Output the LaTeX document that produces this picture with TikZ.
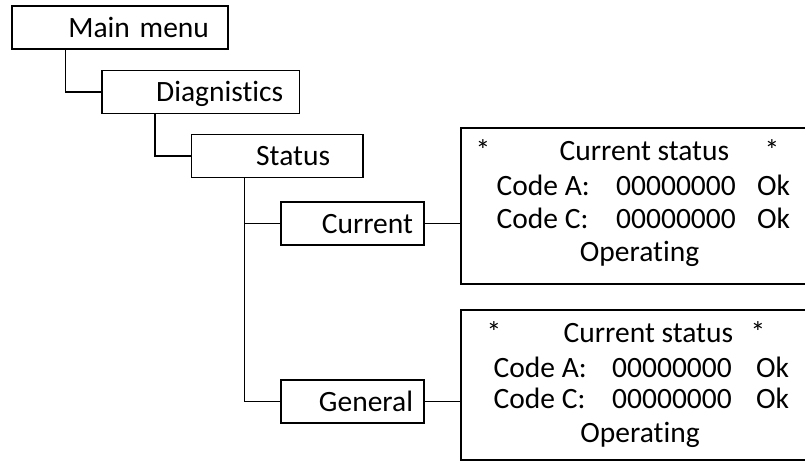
\documentclass[tikz,border=0pt]{standalone}
\usepackage{fontspec}
\setmainfont{Carlito}[Ligatures=NoCommon]
\tikzset{
  menubox/.style={draw, line width=1.5pt, inner ysep=0pt, minimum height=43pt, text height=19pt, text depth=0pt, align=right},
  scrbox/.style={draw, line width=1.5pt, anchor=north west, minimum width=400pt},
  scrtext/.style={anchor=base west, inner sep=0pt},
  scrmid/.style={anchor=base, inner sep=0pt},
  link/.style={line width=1.5pt}
}
\begin{document}
\begin{tikzpicture}[x=1pt, y=-1pt, font=\fontsize{29.5}{35}\selectfont]
\useasboundingbox (0,0) rectangle (805,461);
\clip (0,0) rectangle (805,461);
% menu tree
\node[menubox, text width=178pt, inner xsep=19pt] (mainmenu) at (120,27.5) {Main menu};
\node[menubox, text width=165.5pt, inner xsep=16pt] (diag) at (200.5,92) {Diagnistics};
\node[menubox, text width=105.5pt, inner xsep=33pt] (status) at (277.3,156) {Status};
\node[menubox, text width=121pt, inner xsep=11pt] (current) at (352.5,223.5) {Current};
\node[menubox, text width=121pt, inner xsep=11pt] (general) at (352.5,401.5) {General};
\draw[link] ([xshift=54pt]mainmenu.south west) |- (diag.west);
\draw[link] ([xshift=54pt]diag.south west) |- (status.west);
\draw[link] ([xshift=53.5pt]status.south west) |- (current.west);
\draw[link] ([xshift=53.5pt]status.south west) |- (general.west);
% screens
\node[scrbox, minimum height=156pt] (scr1) at (460,127) {};
\node[scrbox, minimum height=150pt] (scr2) at (460,309) {};
\draw[link] (current.east) -- (current.east -| scr1.west);
\draw[link] (general.east) -- (general.east -| scr2.west);
\node[scrmid] (s1stara) at (483,160) {*};
\node[scrtext] (s1title) at (559.5,160) {Current status};
\node[scrmid] (s1starb) at (772,160) {*};
\node[scrtext] (s1codea) at (496.5,195) {Code A:};
\node[scrtext] (s1vala) at (616,195) {00000000};
\node[scrtext] (s1oka) at (757,195) {Ok};
\node[scrtext] (s1codec) at (496.5,228) {Code C:};
\node[scrtext] (s1valc) at (616,228) {00000000};
\node[scrtext] (s1okc) at (757,228) {Ok};
\node[scrmid] (s1state) at (639.5,261) {Operating};
\node[scrmid] (s2stara) at (494,342) {*};
\node[scrtext] (s2title) at (563.5,342) {Current status};
\node[scrmid] (s2starb) at (758,342) {*};
\node[scrtext] (s2codea) at (493.5,377) {Code A:};
\node[scrtext] (s2vala) at (612,377) {00000000};
\node[scrtext] (s2oka) at (756,377) {Ok};
\node[scrtext] (s2codec) at (493.5,408) {Code C:};
\node[scrtext] (s2valc) at (612,408) {00000000};
\node[scrtext] (s2okc) at (756,408) {Ok};
\node[scrmid] (s2state) at (640,442) {Operating};
\end{tikzpicture}
\end{document}
